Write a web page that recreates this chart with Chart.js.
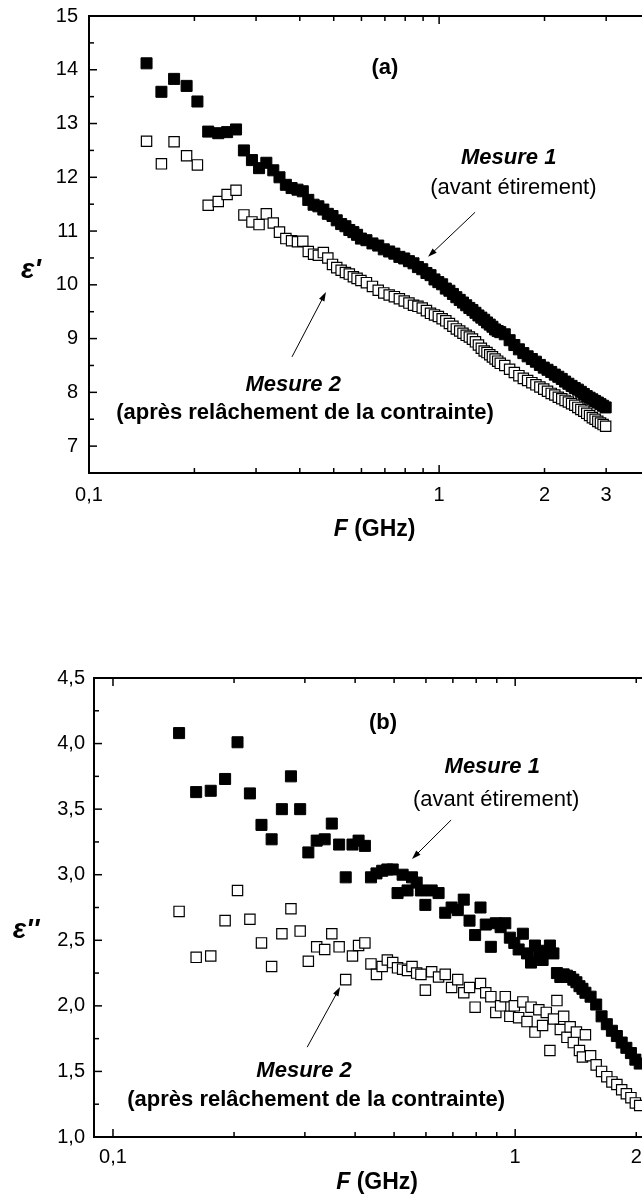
<!DOCTYPE html>
<html>
<head>
<meta charset="utf-8">
<script src="https://cdn.jsdelivr.net/npm/chart.js@4.4.0/dist/chart.umd.min.js"></script>
<style>
html, body { margin: 0; padding: 0; background: #fff; width: 642px; height: 1198px; overflow: hidden; }
canvas { position: absolute; left: 0; }
#chartA { top: 0; }
#chartB { top: 600px; }
</style>
</head>
<body>
<canvas id="chartA" width="669" height="560"></canvas>
<canvas id="chartB" width="669" height="598"></canvas>
<script>
////// data //////
// frequency grid (GHz), shared by both panels
const freq = [
  0.146, 0.161, 0.175, 0.190, 0.204, 0.219, 0.234, 0.248, 0.263, 0.277,
  0.292, 0.306, 0.321, 0.336, 0.350, 0.365, 0.379, 0.394, 0.408, 0.423,
  0.438, 0.452, 0.467, 0.481, 0.496, 0.510, 0.525, 0.540, 0.554, 0.569,
  0.583, 0.598,
  0.620, 0.645, 0.670, 0.695, 0.720, 0.745, 0.770, 0.795, 0.820, 0.845,
  0.870, 0.895, 0.920, 0.945, 0.970, 0.995, 1.020, 1.045, 1.070, 1.095,
  1.120, 1.145, 1.170, 1.195, 1.220, 1.245, 1.270, 1.295, 1.320, 1.345,
  1.370, 1.395, 1.420, 1.445, 1.470, 1.495,
  1.54, 1.59, 1.64, 1.69, 1.74, 1.79, 1.84, 1.89, 1.94, 1.99,
  2.04, 2.09, 2.14, 2.19, 2.24, 2.29, 2.34, 2.39, 2.44, 2.49,
  2.54, 2.59, 2.64, 2.69, 2.74, 2.79, 2.84, 2.89, 2.94, 2.99
];

// (a) eps' - Mesure 1 (avant étirement)
const epsReal1 = [
  14.12, 13.59, 13.83, 13.70, 13.41, 12.85, 12.82, 12.84, 12.89, 12.50,
  12.32, 12.17, 12.27, 12.13, 12.00, 11.86, 11.80, 11.77, 11.74, 11.58,
  11.49, 11.46, 11.40, 11.32, 11.28, 11.20, 11.13, 11.09, 11.02, 10.98,
  10.93, 10.86,
  10.83, 10.77, 10.73, 10.66, 10.62, 10.58, 10.52, 10.49, 10.44, 10.40,
  10.33, 10.29, 10.22, 10.18, 10.10, 10.05, 10.01, 9.93, 9.89, 9.83,
  9.77, 9.72, 9.67, 9.62, 9.57, 9.53, 9.48, 9.43, 9.39, 9.35,
  9.30, 9.26, 9.22, 9.17, 9.14, 9.12,
  9.08, 8.97, 8.88, 8.80, 8.73, 8.67, 8.62, 8.57, 8.51, 8.46,
  8.42, 8.38, 8.33, 8.29, 8.25, 8.20, 8.16, 8.12, 8.08, 8.05,
  8.01, 7.97, 7.93, 7.90, 7.87, 7.84, 7.81, 7.78, 7.75, 7.72
];

// (a) eps' - Mesure 2 (après relâchement)
const epsReal2 = [
  12.67, 12.25, 12.66, 12.40, 12.23, 11.48, 11.55, 11.68, 11.76, 11.30,
  11.17, 11.12, 11.32, 11.15, 10.98, 10.86, 10.82, 10.80, 10.81, 10.62,
  10.57, 10.55, 10.60, 10.50, 10.38, 10.32, 10.27, 10.23, 10.20, 10.15,
  10.12, 10.08,
  10.04, 9.97, 9.90, 9.85, 9.81, 9.78, 9.74, 9.70, 9.66, 9.62,
  9.60, 9.57, 9.52, 9.47, 9.44, 9.41, 9.37, 9.33, 9.28, 9.23,
  9.18, 9.14, 9.10, 9.06, 9.03, 8.99, 8.94, 8.88, 8.82, 8.77,
  8.74, 8.70, 8.66, 8.62, 8.58, 8.54,
  8.50, 8.43, 8.37, 8.31, 8.26, 8.22, 8.18, 8.14, 8.10, 8.06,
  8.02, 7.98, 7.95, 7.91, 7.88, 7.85, 7.82, 7.79, 7.76, 7.72,
  7.68, 7.65, 7.61, 7.57, 7.53, 7.50, 7.46, 7.43, 7.40, 7.37
];

// (b) eps'' - Mesure 1 (panel is cut at ~2 GHz)
const epsImag1 = [
  4.08, 3.63, 3.64, 3.73, 4.01, 3.62, 3.38, 3.27, 3.50, 3.75,
  3.50, 3.17, 3.26, 3.27, 3.39, 3.23, 2.98, 3.23, 3.26, 3.22,
  2.98, 3.01, 3.03, 3.04, 3.04, 2.86, 3.00, 2.88, 2.98, 2.94,
  2.88, 2.77,
  2.88, 2.86, 2.71, 2.75, 2.73, 2.81, 2.65, 2.54, 2.75, 2.62,
  2.45, 2.63, 2.60, 2.63, 2.52, 2.48, 2.43, 2.55, 2.40, 2.33,
  2.46, 2.38, 2.35, 2.42, 2.46, 2.40, 2.25, 2.22, 2.24, 2.23,
  2.22, 2.20, 2.18, 2.15, 2.13, 2.10,
  2.07, 2.01, 1.92, 1.86, 1.81, 1.77, 1.72, 1.68, 1.64, 1.59, 1.56
];

// (b) eps'' - Mesure 2
const epsImag2 = [
  2.72, 2.37, 2.38, 2.65, 2.88, 2.66, 2.48, 2.30, 2.55, 2.74,
  2.57, 2.34, 2.45, 2.43, 2.55, 2.45, 2.20, 2.38, 2.46, 2.48,
  2.32, 2.24, 2.30, 2.35, 2.33, 2.29, 2.28, 2.27, 2.30, 2.25,
  2.24, 2.12,
  2.26, 2.22, 2.24, 2.14, 2.20, 2.10, 2.14, 1.99, 2.17, 2.10,
  2.07, 1.95, 2.00, 2.07, 1.92, 2.00, 1.91, 2.03, 1.88, 1.99,
  1.80, 1.97, 1.85, 1.95, 1.66, 1.90, 2.04, 1.82, 1.92, 1.76,
  1.84, 1.72, 1.80, 1.66, 1.61, 1.78,
  1.62, 1.55, 1.50, 1.46, 1.42, 1.40, 1.36, 1.33, 1.30, 1.26, 1.24
];

// tick positions / labels
const xTicksA = [0.1, 0.2, 0.3, 0.4, 0.5, 0.6, 0.7, 0.8, 0.9, 1, 2, 3];
const xLabelsA = ['0,1', '', '', '', '', '', '', '', '', '1', '2', '3'];
const xTicksB = [0.1, 0.2, 0.3, 0.4, 0.5, 0.6, 0.7, 0.8, 0.9, 1, 2];
const xLabelsB = ['0,1', '', '', '', '', '', '', '', '', '1', '2'];
const xMajor = [0.1, 1];

const FONT = '"Liberation Sans", Arial, Helvetica, sans-serif';

////// plugins //////
// box + inward ticks
const frame = {
  id: 'frame',
  afterDraw(chart) {
    const { ctx, chartArea: a, scales: { x, y } } = chart;
    ctx.save();
    ctx.strokeStyle = '#000';
    ctx.lineWidth = 2;
    ctx.beginPath();
    ctx.moveTo(a.right + 5, a.top);
    ctx.lineTo(a.left, a.top);
    ctx.lineTo(a.left, a.bottom);
    ctx.lineTo(a.right + 5, a.bottom);
    ctx.stroke();
    ctx.lineWidth = 1.5;
    x.ticks.forEach(t => {
      const px = x.getPixelForValue(t.value);
      const len = xMajor.includes(t.value) ? 8 : 5;
      ctx.beginPath();
      ctx.moveTo(px, a.bottom); ctx.lineTo(px, a.bottom - len);
      ctx.moveTo(px, a.top); ctx.lineTo(px, a.top + len);
      ctx.stroke();
    });
    y.ticks.forEach(t => {
      const py = y.getPixelForValue(t.value);
      const len = t.label ? 8 : 5;
      ctx.beginPath();
      ctx.moveTo(a.left, py); ctx.lineTo(a.left + len, py);
      ctx.stroke();
    });
    ctx.restore();
  }
};

// axis titles (F in italics)
const axisTitles = {
  id: 'axisTitles',
  afterDraw(chart, args, o) {
    const { ctx, chartArea: a, scales: { y } } = chart;
    ctx.save();
    ctx.fillStyle = '#000';
    ctx.textBaseline = 'middle';
    ctx.textAlign = 'left';
    const f1 = 'italic bold 23px ' + FONT;
    const f2 = 'bold 23px ' + FONT;
    ctx.font = f1; const w1 = ctx.measureText('F').width;
    ctx.font = f2; const w2 = ctx.measureText(' (GHz)').width;
    const x0 = (a.left + a.right) / 2 - (w1 + w2) / 2;
    const ty = a.bottom + o.xTitleOffset;
    ctx.font = f1; ctx.fillText('F', x0, ty);
    ctx.font = f2; ctx.fillText(' (GHz)', x0 + w1, ty);
    ctx.textAlign = 'center';
    ctx.font = 'italic bold 28px ' + FONT;
    ctx.fillText(o.yTitle, o.yTitleX, y.getPixelForValue(o.yTitleAt));
    ctx.restore();
  }
};

// text notes and arrows, placed in data units
const notes = {
  id: 'notes',
  afterDatasetsDraw(chart, args, o) {
    const { ctx, scales: { x, y } } = chart;
    ctx.save();
    ctx.fillStyle = '#000';
    ctx.strokeStyle = '#000';
    ctx.textAlign = 'center';
    ctx.textBaseline = 'middle';
    o.texts.forEach(t => {
      ctx.font = t.font + ' ' + FONT;
      ctx.fillText(t.text, x.getPixelForValue(t.x), y.getPixelForValue(t.y));
    });
    ctx.lineWidth = 1;
    o.arrows.forEach(ar => {
      const x1 = x.getPixelForValue(ar[0]), y1 = y.getPixelForValue(ar[1]);
      const x2 = x.getPixelForValue(ar[2]), y2 = y.getPixelForValue(ar[3]);
      const ang = Math.atan2(y2 - y1, x2 - x1);
      ctx.beginPath();
      ctx.moveTo(x1, y1);
      ctx.lineTo(x2 - 6 * Math.cos(ang), y2 - 6 * Math.sin(ang));
      ctx.stroke();
      ctx.beginPath();
      ctx.moveTo(x2, y2);
      ctx.lineTo(x2 - 9 * Math.cos(ang) + 3 * Math.sin(ang), y2 - 9 * Math.sin(ang) - 3 * Math.cos(ang));
      ctx.lineTo(x2 - 9 * Math.cos(ang) - 3 * Math.sin(ang), y2 - 9 * Math.sin(ang) + 3 * Math.cos(ang));
      ctx.closePath();
      ctx.fill();
    });
    ctx.restore();
  }
};

////// charts //////
function makePanel(canvas, p) {
  const pts1 = p.vals1.map((v, i) => ({ x: freq[i], y: v }));
  const pts2 = p.vals2.map((v, i) => ({ x: freq[i], y: v }));
  return new Chart(canvas, {
    type: 'scatter',
    data: {
      datasets: [
        { label: 'Mesure 1', data: pts1, pointStyle: 'rect', pointRadius: 7.8,
          backgroundColor: '#000', borderColor: '#000', borderWidth: 1, order: 2 },
        { label: 'Mesure 2', data: pts2, pointStyle: 'rect', pointRadius: 7.3,
          backgroundColor: '#fff', borderColor: '#000', borderWidth: 1.2, order: 1 }
      ]
    },
    options: {
      responsive: false,
      animation: false,
      devicePixelRatio: 1,
      layout: { padding: { top: p.padTop, left: 0, right: 0, bottom: 0 } },
      plugins: {
        legend: { display: false },
        tooltip: { enabled: false },
        axisTitles: { xTitleOffset: p.xTitleOffset, yTitle: p.yTitle, yTitleX: p.yTitleX, yTitleAt: p.yTitleAt },
        notes: { texts: p.texts, arrows: p.arrows }
      },
      scales: {
        x: {
          type: 'logarithmic',
          min: p.xMin, max: p.xMax,
          grid: { display: false, drawTicks: false },
          border: { display: false },
          afterBuildTicks: s => { s.ticks = p.xTicks.map(v => ({ value: v })); },
          afterFit: s => { s.height = p.xHeight; s.paddingLeft = 0; s.paddingRight = 0; },
          ticks: {
            autoSkip: false, maxRotation: 0, padding: p.xPad, color: '#000',
            font: { family: FONT, size: 20 },
            callback: (v, i) => p.xLabels[i]
          }
        },
        y: {
          min: p.yMin, max: p.yMax,
          grid: { display: false, drawTicks: false },
          border: { display: false },
          afterFit: s => { s.width = p.yWidth; s.paddingTop = 0; s.paddingBottom = 0; },
          ticks: {
            stepSize: p.yStep, autoSkip: false, padding: p.yPad, color: '#000',
            font: { family: FONT, size: 20 },
            callback: p.yLabel
          }
        }
      }
    },
    plugins: [frame, axisTitles, notes]
  });
}

makePanel(document.getElementById('chartA'), {
  vals1: epsReal1, vals2: epsReal2,
  padTop: 16, xHeight: 87, yWidth: 89,
  xMin: 0.1, xMax: 4.28, xTicks: xTicksA, xLabels: xLabelsA, xPad: 10,
  yMin: 6.5, yMax: 15, yStep: 0.5, yPad: 11,
  yLabel: v => Number.isInteger(v) ? String(v) : '',
  xTitleOffset: 57, yTitle: "ε'", yTitleX: 31, yTitleAt: 10.27,
  texts: [
    { x: 0.70, y: 14.03, text: '(a)', font: 'bold 22px' },
    { x: 1.58, y: 12.36, text: 'Mesure 1', font: 'italic bold 22px' },
    { x: 1.63, y: 11.80, text: '(avant étirement)', font: '22px' },
    { x: 0.383, y: 8.13, text: 'Mesure 2', font: 'italic bold 22px' },
    { x: 0.414, y: 7.61, text: '(après relâchement de la contrainte)', font: 'bold 22px' }
  ],
  arrows: [
    [1.267, 11.35, 0.930, 10.52],
    [0.380, 8.66, 0.475, 9.865]
  ]
});

makePanel(document.getElementById('chartB'), {
  vals1: epsImag1, vals2: epsImag2,
  padTop: 78, xHeight: 61, yWidth: 94,
  xMin: 0.0897, xMax: 2.294, xTicks: xTicksB, xLabels: xLabelsB, xPad: 8,
  yMin: 1, yMax: 4.5, yStep: 0.25, yPad: 9,
  yLabel: v => Math.abs(v * 2 - Math.round(v * 2)) < 1e-6 ? v.toFixed(1).replace('.', ',') : '',
  xTitleOffset: 46, yTitle: "ε''", yTitleX: 26, yTitleAt: 2.58,
  texts: [
    { x: 0.469, y: 4.157, text: '(b)', font: 'bold 22px' },
    { x: 0.877, y: 3.82, text: 'Mesure 1', font: 'italic bold 22px' },
    { x: 0.897, y: 3.57, text: '(avant étirement)', font: '22px' },
    { x: 0.2986, y: 1.50, text: 'Mesure 2', font: 'italic bold 22px' },
    { x: 0.320, y: 1.28, text: '(après relâchement de la contrainte)', font: 'bold 22px' }
  ],
  arrows: [
    [0.693, 3.417, 0.554, 3.12],
    [0.304, 1.685, 0.367, 2.143]
  ]
});
</script>
</body>
</html>
